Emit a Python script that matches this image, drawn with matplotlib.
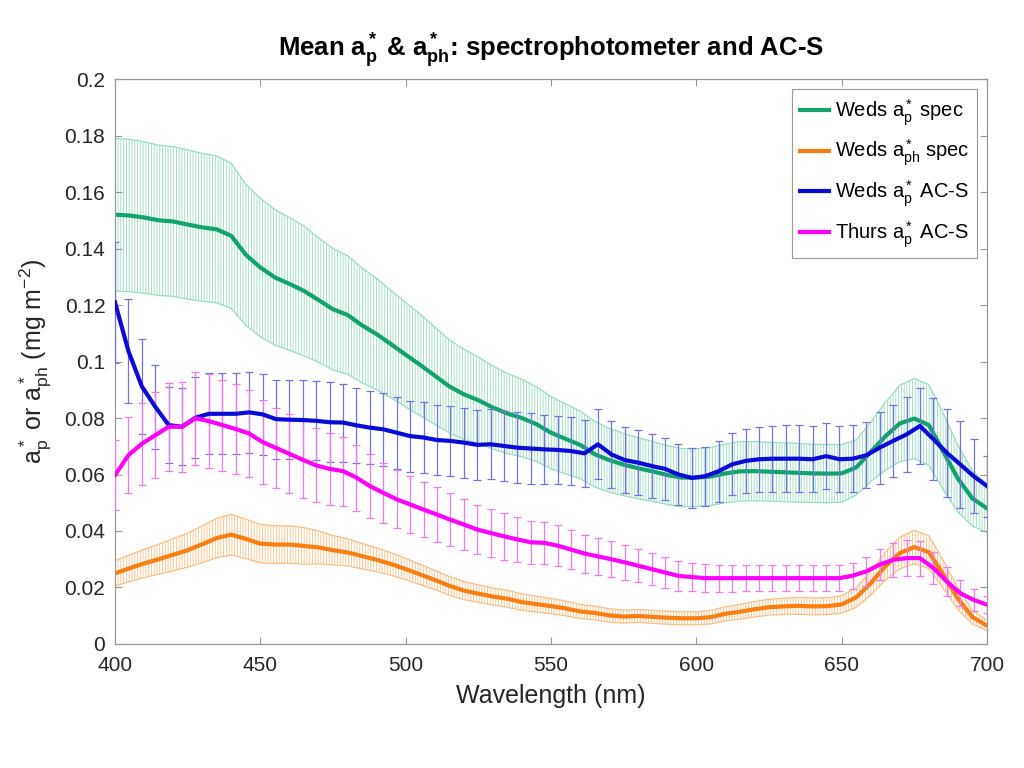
import numpy as np
import matplotlib
matplotlib.use("Agg")
import matplotlib.pyplot as plt

# spectrophotometer data, 5 nm steps
spec_wl = np.arange(400, 701, 5)

weds_ap_spec = [0.152, 0.1517, 0.151, 0.150, 0.1496, 0.1485, 0.1475, 0.1468, 0.1445, 0.1378,
                0.1333, 0.1298, 0.1275, 0.125, 0.1218, 0.1185, 0.1165, 0.1128, 0.1097, 0.1061,
                0.1024, 0.0988, 0.095, 0.0912, 0.0884, 0.0863, 0.0837, 0.0816, 0.0800, 0.0778,
                0.0748, 0.0726, 0.0705, 0.0672, 0.0651, 0.0635, 0.0622, 0.0611, 0.0598, 0.0589,
                0.0589, 0.0593, 0.0604, 0.0611, 0.0612, 0.061, 0.0608, 0.0606, 0.0604, 0.0603,
                0.0604, 0.0625, 0.068, 0.0735, 0.0781, 0.0798, 0.0775, 0.068, 0.0585, 0.0515,
                0.048]
weds_ap_spec_sd = [0.027, 0.027, 0.0268, 0.0266, 0.0265, 0.0264, 0.0262, 0.026, 0.0257, 0.025,
                   0.0245, 0.024, 0.0235, 0.023, 0.022, 0.0215, 0.021, 0.0203, 0.0197, 0.019,
                   0.0185, 0.018, 0.0172, 0.0165, 0.016, 0.0153, 0.0147, 0.0142, 0.0137, 0.0132,
                   0.0128, 0.0124, 0.012, 0.0116, 0.0113, 0.011, 0.0108, 0.0106, 0.0104, 0.0103,
                   0.0102, 0.0103, 0.0104, 0.0105, 0.0105, 0.0104, 0.0104, 0.0104, 0.0103, 0.0103,
                   0.0102, 0.0098, 0.0105, 0.012, 0.0135, 0.0142, 0.0143, 0.0135, 0.0118, 0.0098,
                   0.0085]

weds_aph_spec = [0.025, 0.0268, 0.0285, 0.030, 0.0316, 0.0332, 0.0353, 0.0375, 0.0387, 0.0372,
                 0.0355, 0.0352, 0.0352, 0.0347, 0.0342, 0.0332, 0.0324, 0.0311, 0.0298, 0.0283,
                 0.0265, 0.0246, 0.0227, 0.0206, 0.0189, 0.0178, 0.0168, 0.016, 0.0148, 0.0141,
                 0.0134, 0.0126, 0.0115, 0.011, 0.0101, 0.0097, 0.0099, 0.0096, 0.0093, 0.0091,
                 0.0091, 0.0095, 0.0107, 0.0114, 0.0123, 0.013, 0.0133, 0.0135, 0.0133, 0.0134,
                 0.014, 0.0165, 0.0215, 0.0275, 0.0322, 0.0343, 0.0325, 0.0245, 0.016, 0.0095,
                 0.0065]
weds_aph_spec_sd = [0.0045, 0.0047, 0.005, 0.0053, 0.0057, 0.006, 0.0065, 0.007, 0.0072, 0.007,
                    0.0068, 0.0067, 0.0066, 0.0065, 0.0058, 0.0052, 0.0048, 0.0045, 0.0042, 0.004,
                    0.0038, 0.0036, 0.0034, 0.0033, 0.0032, 0.0031, 0.003, 0.003, 0.0029, 0.0028,
                    0.0027, 0.0026, 0.0025, 0.0024, 0.0024, 0.0023, 0.0023, 0.0023, 0.0023, 0.0023,
                    0.0023, 0.0024, 0.0025, 0.0026, 0.0027, 0.0028, 0.0029, 0.003, 0.003, 0.003,
                    0.0031, 0.0035, 0.0042, 0.005, 0.0056, 0.0059, 0.0058, 0.005, 0.0038, 0.0025,
                    0.0018]

# AC-S data
acs_wl = np.linspace(400, 700, 66)

weds_ap_acs = [0.121, 0.1037, 0.0912, 0.084, 0.0775, 0.0769, 0.0801, 0.0815, 0.0815, 0.0815,
               0.082, 0.0813, 0.0796, 0.0794, 0.0793, 0.079, 0.0785, 0.0784, 0.0774, 0.0766,
               0.076, 0.0748, 0.0736, 0.0731, 0.0722, 0.0719, 0.0713, 0.0705, 0.0707, 0.0701,
               0.0695, 0.0692, 0.0689, 0.0687, 0.0683, 0.0675, 0.0707, 0.0671, 0.0651, 0.0642,
               0.063, 0.062, 0.060, 0.0588, 0.0594, 0.0612, 0.0636, 0.0648, 0.0654, 0.0656,
               0.0656, 0.0656, 0.0654, 0.0665, 0.0654, 0.0656, 0.0668, 0.0695, 0.0719, 0.0742,
               0.0772, 0.0725, 0.0677, 0.0636, 0.0594, 0.0559]
weds_ap_acs_sd = [0.0215, 0.0183, 0.0167, 0.0149, 0.0134, 0.0136, 0.0143, 0.0143, 0.0144, 0.0143,
                  0.0144, 0.0144, 0.014, 0.014, 0.014, 0.014, 0.0141, 0.0138, 0.0132, 0.013,
                  0.013, 0.0128, 0.0126, 0.0124, 0.0124, 0.0124, 0.0124, 0.0124, 0.0124, 0.0125,
                  0.0125, 0.0125, 0.0123, 0.012, 0.012, 0.0118, 0.0124, 0.012, 0.0116, 0.0115,
                  0.0112, 0.011, 0.0107, 0.0105, 0.0105, 0.0108, 0.011, 0.0114, 0.0115, 0.0117,
                  0.0118, 0.0118, 0.0117, 0.0118, 0.0116, 0.0118, 0.0117, 0.0128, 0.0127, 0.0133,
                  0.0136, 0.0145, 0.0155, 0.0154, 0.013, 0.0108]

thurs_ap_acs = [0.0598, 0.0668, 0.0709, 0.0739, 0.0769, 0.0769, 0.0799, 0.0789, 0.0775, 0.0761,
                0.0745, 0.0715, 0.0694, 0.0673, 0.0652, 0.0632, 0.062, 0.0612, 0.0589, 0.0559,
                0.0535, 0.0512, 0.0494, 0.0476, 0.0458, 0.044, 0.0423, 0.0405, 0.0393, 0.0381,
                0.037, 0.036, 0.0358, 0.0348, 0.0334, 0.032, 0.031, 0.030, 0.0289, 0.0277,
                0.0265, 0.0253, 0.0241, 0.0237, 0.0233, 0.0233, 0.0233, 0.0233, 0.0233, 0.0233,
                0.0233, 0.0233, 0.0233, 0.0233, 0.0233, 0.0242, 0.0257, 0.0281, 0.0298, 0.0304,
                0.0304, 0.0269, 0.0221, 0.018, 0.0156, 0.0139]
thurs_ap_acs_sd = [0.0123, 0.0134, 0.0145, 0.0153, 0.0156, 0.0159, 0.0165, 0.0166, 0.0161, 0.0158,
                   0.0153, 0.015, 0.0143, 0.014, 0.0136, 0.0131, 0.0127, 0.0122, 0.0117, 0.0112,
                   0.0107, 0.0103, 0.010, 0.0098, 0.0097, 0.0094, 0.009, 0.0086, 0.0084, 0.0082,
                   0.008, 0.0077, 0.0074, 0.0072, 0.007, 0.0067, 0.0065, 0.0063, 0.0061, 0.0059,
                   0.0057, 0.0055, 0.0052, 0.005, 0.0049, 0.0048, 0.0048, 0.0047, 0.0047, 0.0047,
                   0.0047, 0.0047, 0.0047, 0.0047, 0.0046, 0.0046, 0.005, 0.0055, 0.006, 0.0065,
                   0.0062, 0.0058, 0.0052, 0.0045, 0.0038, 0.0031]

labels = [r'Weds $\mathregular{a_p^*}$ spec',
          r'Weds $\mathregular{a_{ph}^*}$ spec',
          r'Weds $\mathregular{a_p^*}$ AC-S',
          r'Thurs $\mathregular{a_p^*}$ AC-S']

plt.rcParams['font.family'] = ['Liberation Sans', 'DejaVu Sans']
plt.rcParams['mathtext.fontset'] = 'custom'
plt.rcParams['mathtext.rm'] = 'Liberation Sans'
plt.rcParams['mathtext.it'] = 'Liberation Sans'
plt.rcParams['mathtext.bf'] = 'Liberation Sans:bold'
plt.rcParams['hatch.linewidth'] = 0.6

fig = plt.figure(figsize=(10.24, 7.68), dpi=100)
ax = fig.add_axes([0.1123, 0.1615, 0.8516, 0.7355])


def spec_band(wl, mean, sd, line_col, bar_col, label):
    mean = np.array(mean)
    sd = np.array(sd)
    ax.fill_between(wl, mean - sd, mean + sd, facecolor='none', edgecolor=bar_col,
                    hatch='||||||', linewidth=0, zorder=1)
    ax.plot(wl, mean + sd, color=bar_col, lw=0.9, zorder=1)
    ax.plot(wl, mean - sd, color=bar_col, lw=0.9, zorder=1)
    ax.plot(wl, mean, color=line_col, lw=3, label=label, zorder=2)


def acs_bars(wl, mean, sd, line_col, bar_col, label):
    ax.errorbar(wl, mean, yerr=sd, fmt='none', ecolor=bar_col, elinewidth=0.9,
                capsize=3, capthick=0.9, zorder=3)
    ax.plot(wl, mean, color=line_col, lw=3, label=label, zorder=4)


spec_band(spec_wl, weds_ap_spec, weds_ap_spec_sd, '#12A36C', '#9ADDBF', labels[0])
spec_band(spec_wl, weds_aph_spec, weds_aph_spec_sd, '#FA7F12', '#F9C089', labels[1])
acs_bars(acs_wl, weds_ap_acs, weds_ap_acs_sd, '#0A0AD8', '#7373E2', labels[2])
acs_bars(acs_wl, thurs_ap_acs, thurs_ap_acs_sd, '#FF00FF', '#F07CF0', labels[3])

ax.set_xlim(400, 700)
ax.set_ylim(0, 0.2)
ax.set_xticks(np.arange(400, 701, 50))
yt = np.arange(0, 0.201, 0.02)
ax.set_yticks(yt)
ax.set_yticklabels(['0', '0.02', '0.04', '0.06', '0.08', '0.1',
                    '0.12', '0.14', '0.16', '0.18', '0.2'])
ax.tick_params(direction='in', top=True, right=True, length=5, width=0.8,
               labelsize=15, colors='#999999', labelcolor='#262626')
ax.tick_params(axis='x', pad=9)
ax.tick_params(axis='y', pad=7)
for s in ax.spines.values():
    s.set_color('#999999')
    s.set_linewidth(0.9)

ax.set_xlabel('Wavelength (nm)', fontsize=18, color='#262626', labelpad=6)
ax.set_ylabel(r'$\mathregular{a_p^*}$ or $\mathregular{a_{ph}^*}$ (mg m$\mathregular{^{-2}}$)',
              fontsize=18, color='#262626', labelpad=8)
ax.set_title(r'Mean $\mathbf{a_p^*}$ & $\mathbf{a_{ph}^*}$: spectrophotometer and AC-S',
             fontsize=18.5, fontweight='bold', pad=16)

leg = ax.legend(loc='upper right', fontsize=14.5, frameon=True, fancybox=False,
                framealpha=1, edgecolor='#999999', handlelength=1.4, handletextpad=0.3,
                borderaxespad=0.5, labelspacing=0.5, borderpad=0.4)
leg.get_frame().set_linewidth(0.8)

fig.savefig('out.png', dpi=100, facecolor='white')
